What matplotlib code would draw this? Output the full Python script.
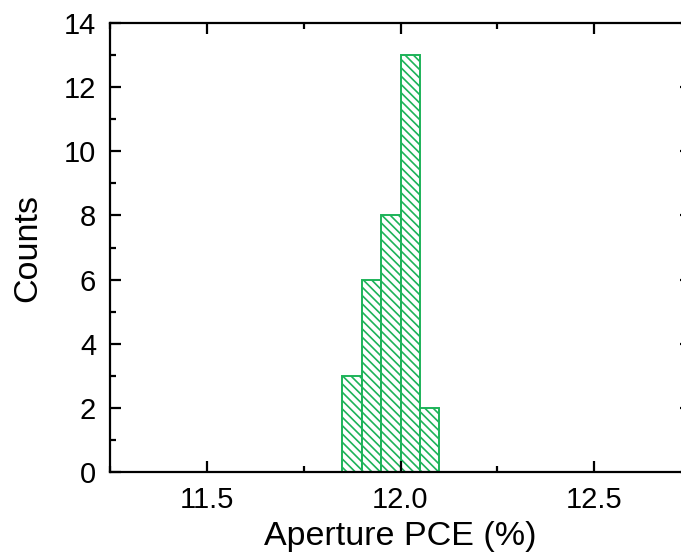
import matplotlib
matplotlib.use("Agg")
import matplotlib.pyplot as plt
from matplotlib.ticker import MultipleLocator
import numpy as np

bin_left = [11.85, 11.90, 11.95, 12.00, 12.05]
counts = [3, 6, 8, 13, 2]
bin_width = 0.05
xticks = [11.5, 12.0, 12.5]
xtick_labels = ["11.5", "12.0", "12.5"]
yticks = [0, 2, 4, 6, 8, 10, 12, 14]

plt.rcParams['font.family'] = ['Liberation Sans', 'DejaVu Sans']
plt.rcParams['hatch.linewidth'] = 1.2
green = '#1db359'
plt.rcParams['hatch.color'] = green

fig = plt.figure(figsize=(6.81, 5.56), dpi=100)
ax = fig.add_axes([110/681, 84/556, 581/681, 449/556])

ax.bar(bin_left, counts, width=bin_width, align='edge', facecolor='white',
       edgecolor=green, linewidth=1.4, hatch='\\\\\\\\')

ax.set_xlim(11.25, 12.75)
ax.set_ylim(0, 14)
ax.set_xticks(xticks)
ax.set_xticklabels(xtick_labels)
ax.set_yticks(yticks)
ax.xaxis.set_minor_locator(MultipleLocator(0.25))
ax.yaxis.set_minor_locator(MultipleLocator(1))

for s in ax.spines.values():
    s.set_linewidth(1.6)
ax.tick_params(which='both', direction='in', top=True, right=True,
               labelsize=21, width=1.6, pad=10)
ax.tick_params(which='major', length=8)
ax.tick_params(which='minor', length=4)

ax.set_xlabel('Aperture PCE (%)', fontsize=24.5, labelpad=5)
ax.set_ylabel('Counts', fontsize=24.5, labelpad=15)

fig.savefig('out.png', dpi=100)
